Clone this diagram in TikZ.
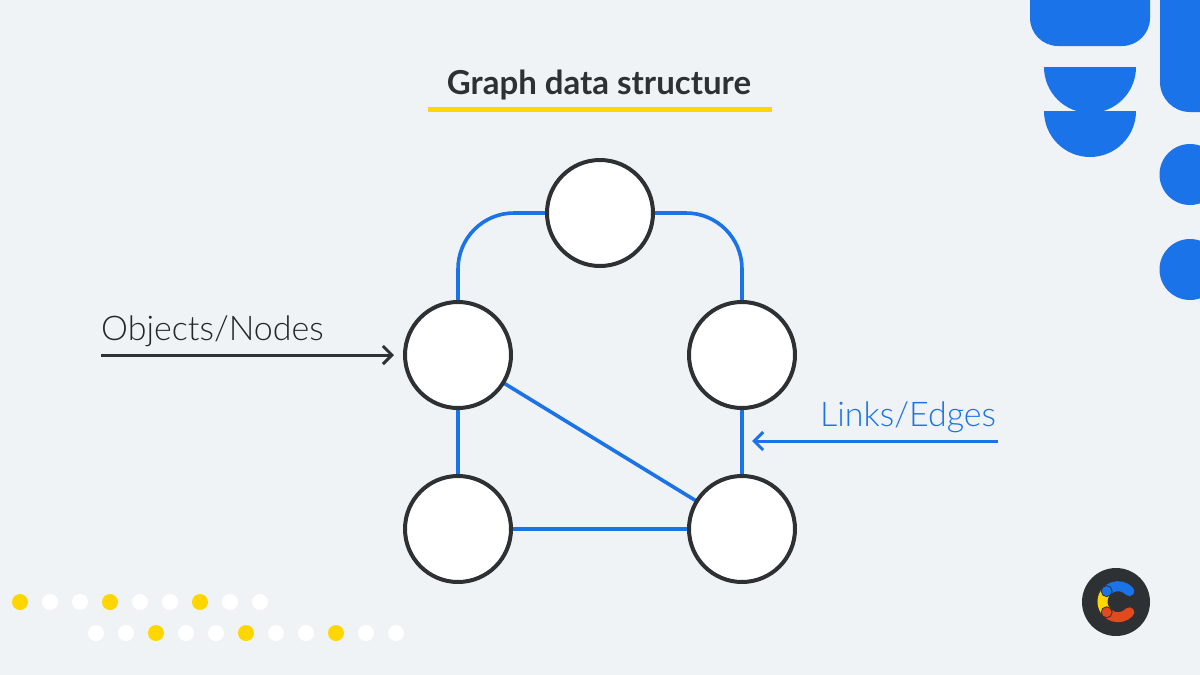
\documentclass[tikz,border=0pt]{standalone}
\usepackage{fontspec}
\setmainfont{Lato}
\newfontfamily\lightfont[UprightFont=* Light]{Lato}
\usetikzlibrary{arrows.meta,backgrounds}
\definecolor{bgc}{HTML}{EFF3F5}
\definecolor{blu}{HTML}{1A73E8}
\definecolor{ink}{HTML}{2D3134}
\definecolor{gold}{HTML}{FFD600}
\definecolor{logoRed}{HTML}{E2491D}
\tikzset{
 x=1pt,y=-1pt,
 gnode/.style={circle,draw=ink,fill=white,line width=4pt,minimum size=106pt,inner sep=0pt},
 edge/.style={draw=blu,line width=3.6pt},
 pointer/.style={line width=3pt,-{Straight Barb[length=9pt,width=18pt,line width=3pt]}},
 blob/.style={fill=blu,draw=none},
 wdot/.style={fill=white,draw=none},
 ydot/.style={fill=gold,draw=none},
 lbl/.style={font=\lightfont\fontsize{34}{40}\selectfont,anchor=base west,inner sep=0pt},
}
\begin{document}
\begin{tikzpicture}
\useasboundingbox (0,0) rectangle (1200,675);
\clip (0,0) rectangle (1200,675);
% decorative shapes
\fill[blob] (1030,-5) -- (1150,-5) -- (1150,18) arc[start angle=0,end angle=90,radius=28] -- (1058,46) arc[start angle=90,end angle=180,radius=28] -- cycle;
\fill[blob] (1044,67) -- (1136,67) arc[start angle=0,end angle=180,radius=46] -- cycle;
\fill[blob] (1044,111) -- (1136,111) arc[start angle=0,end angle=180,radius=46] -- cycle;
\fill[blob] (1160,-5) -- (1205,-5) -- (1205,112) -- (1190,112) arc[start angle=90,end angle=180,radius=30] -- cycle;
\fill[blob] (1190,174.5) circle[radius=30.5];
\fill[blob] (1190,269.5) circle[radius=30.5];
% title
\node[font=\bfseries\fontsize{33}{38}\selectfont,text=ink,anchor=base,inner sep=0pt] (title) at (599,94) {Graph data structure};
\fill[gold] (428,107) rectangle (772,112);
% graph
\node[gnode] (top) at (600,213) {};
\node[gnode] (lm) at (458,355) {};
\node[gnode] (rm) at (742,355) {};
\node[gnode] (lb) at (458,529) {};
\node[gnode] (rb) at (742,529) {};
\begin{scope}[on background layer]
\fill[bgc] (0,0) rectangle (1200,675);
\path[edge,rounded corners=56pt] (lm.center) |- (top.center);
\path[edge,rounded corners=56pt] (rm.center) |- (top.center);
\path[edge] (lm.center) -- (lb.center);
\path[edge] (rm.center) -- (rb.center);
\path[edge] (lb.center) -- (rb.center);
\path[edge] (lm.center) -- (rb.center);
\end{scope}
% labels
\coordinate (objStart) at (101,355);
\coordinate (objEnd) at (394,355);
\coordinate (linkStart) at (998,441);
\coordinate (linkEnd) at (752,441);
\node[lbl,text=ink!80!black] (objLabel) at (101,340) {Objects/Nodes};
\draw[pointer,draw=ink] (objStart) -- (objEnd);
\node[lbl,text=blu] (linkLabel) at (820,426) {Links/Edges};
\draw[pointer,draw=blu] (linkStart) -- (linkEnd);
% dots
\foreach \x/\s in {20/ydot,50/wdot,80/wdot,110/ydot,140/wdot,170/wdot,200/ydot,230/wdot,260/wdot}{
 \fill[\s] (\x,602) circle[radius=8];
}
\foreach \x/\s in {96/wdot,126/wdot,156/ydot,186/wdot,216/wdot,246/ydot,276/wdot,306/wdot,336/ydot,366/wdot,396/wdot}{
 \fill[\s] (\x,633) circle[radius=8];
}
% logo
\fill[ink] (1116,602) circle[radius=34];
\coordinate (logoC) at (1118,601.7);
\draw[gold,line width=10pt] (logoC) ++(223:15.5) arc[start angle=223,end angle=137,radius=15.5];
\draw[logoRed,line width=10pt,line cap=round] (logoC) ++(137:15.5) arc[start angle=137,end angle=43,radius=15.5];
\draw[blu,line width=10pt,line cap=round] (logoC) ++(223:15.5) arc[start angle=223,end angle=317,radius=15.5];
\fill[blu,draw=ink,line width=0.8pt] (logoC) ++(223:15.5) circle[radius=5.5];
\fill[logoRed,draw=ink,line width=0.8pt] (logoC) ++(137:15.5) circle[radius=5.5];
\end{tikzpicture}
\end{document}
